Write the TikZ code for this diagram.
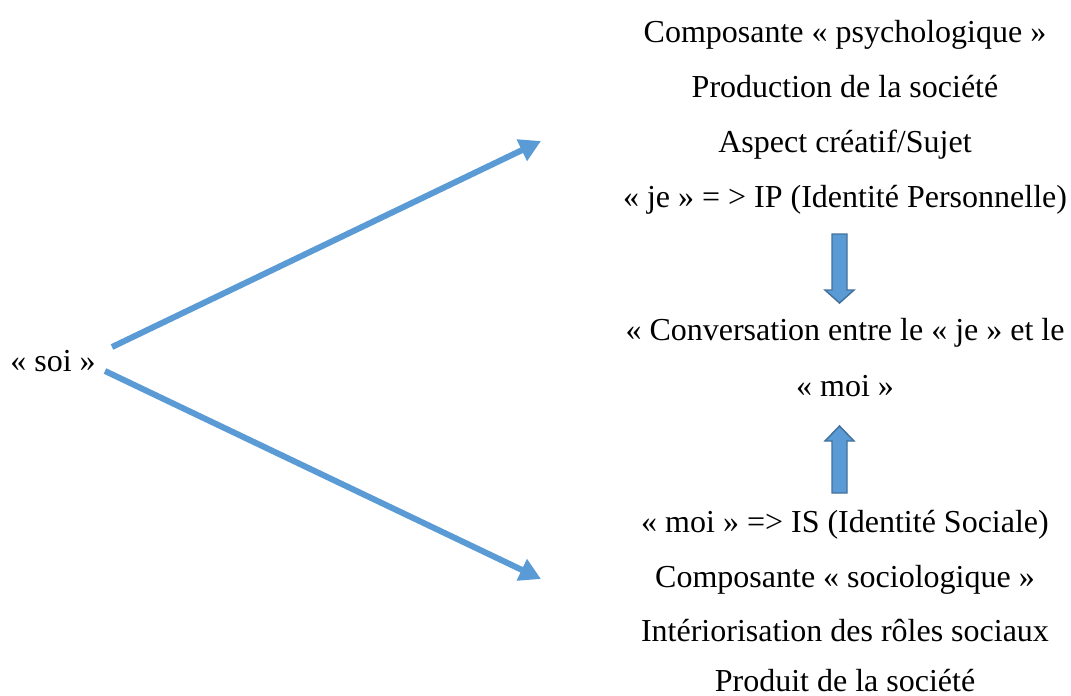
\documentclass[tikz,border=0pt]{standalone}
\usepackage{fontspec}
\setmainfont{Liberation Serif}
\usetikzlibrary{arrows.meta}
\definecolor{blu}{HTML}{5B9BD5}
\definecolor{bluedge}{HTML}{41719C}
\begin{document}
\begin{tikzpicture}[x=0.75pt,y=-0.75pt,
  txt/.style={anchor=base,inner sep=0pt,font=\fontsize{24}{29}\selectfont},
  conn/.style={draw=blu,line width=4.5pt,-{Triangle[length=16pt,width=17pt]}},
  blockarrow/.style={fill=blu,draw=bluedge,line width=1.1pt,line join=miter}]
\useasboundingbox (0,0) rectangle (1071,696);
\node[txt] (soi) at (53,371) {« soi »};
\node[txt] (t1) at (845,42) {Composante « psychologique »};
\node[txt] (t2) at (845,97) {Production de la société};
\node[txt] (t3) at (845,152) {Aspect créatif/Sujet};
\node[txt] (t4) at (845,207) {« je » = > IP (Identité Personnelle)};
\node[txt] (m1) at (845,340) {« Conversation entre le « je » et le};
\node[txt] (m2) at (845,396) {« moi »};
\node[txt] (b1) at (845,532) {« moi » => IS (Identité Sociale)};
\node[txt] (b2) at (845,587) {Composante « sociologique »};
\node[txt] (b3) at (845,641) {Intériorisation des rôles sociaux};
\node[txt] (b4) at (845,691) {Produit de la société};
\coordinate (s1) at (112,347);
\coordinate (e1) at (541,141);
\coordinate (s2) at (105,371);
\coordinate (e2) at (541,579);
\draw[conn] (s1) -- (e1);
\draw[conn] (s2) -- (e2);
\draw[blockarrow] (832,234) -- (847,234) -- (847,290) -- (854,290) -- (839.5,303) -- (825,290) -- (832,290) -- cycle;
\draw[blockarrow] (832,493) -- (847,493) -- (847,441) -- (854,441) -- (839.5,426) -- (825,441) -- (832,441) -- cycle;
\end{tikzpicture}
\end{document}
